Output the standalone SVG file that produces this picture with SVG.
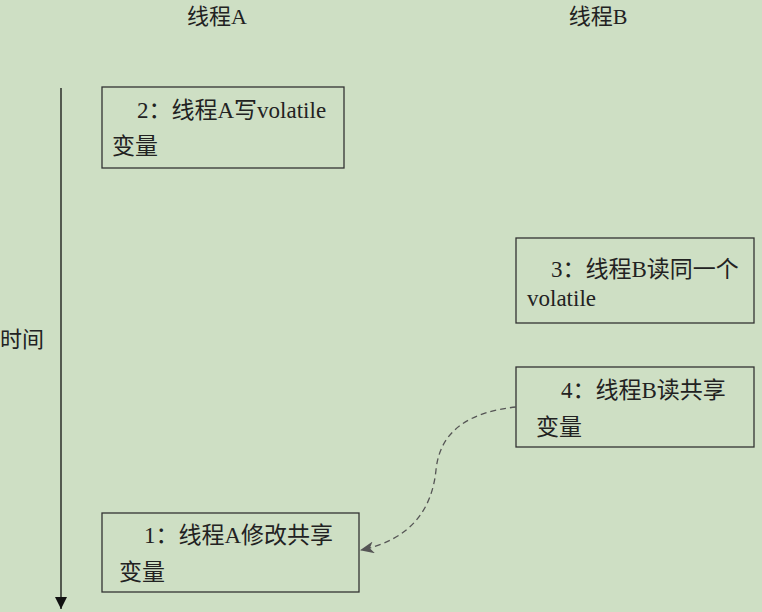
<svg xmlns="http://www.w3.org/2000/svg" width="762" height="612" viewBox="0 0 762 612">
<style>
text{fill:#222}
.box{fill:none;stroke:#333;stroke-width:1.3}
.dash{fill:none;stroke:#555;stroke-width:1.3;stroke-dasharray:6 4}
</style>
<defs>
<marker id="tri" markerWidth="12" markerHeight="12" refX="12" refY="6" orient="auto" markerUnits="userSpaceOnUse" viewBox="0 0 12 12">
<path d="M0,0 L12,6 L0,12 Z" fill="#111"/>
</marker>
<marker id="stealth" markerWidth="14" markerHeight="12" refX="13" refY="6" orient="auto" markerUnits="userSpaceOnUse" viewBox="0 0 14 12">
<path d="M0,0 L14,6 L0,12 L4,6 Z" fill="#555"/>
</marker>
</defs>
<rect width="762" height="612" fill="#cedfc4"/>
<g font-family="'Liberation Serif', 'Noto Sans CJK SC', serif" font-size="22">
<g id="headers">
<text x="217" y="24" text-anchor="middle">线程A</text>
<text x="598" y="24" text-anchor="middle">线程B</text>
</g>
<g id="time-axis">
<line x1="61" y1="88" x2="61" y2="609" stroke="#111" stroke-width="1.3" marker-end="url(#tri)"/>
<text x="0" y="347">时间</text>
</g>
<g id="node2" font-size="23">
<rect class="box" x="102" y="87" width="242" height="81"/>
<text x="137" y="118">2：线程A写volatile</text>
<text x="112" y="154">变量</text>
</g>
<g id="node3" font-size="23">
<rect class="box" x="516" y="238" width="238" height="85"/>
<text x="551" y="277">3：线程B读同一个</text>
<text x="527" y="306">volatile</text>
</g>
<g id="node4" font-size="23">
<rect class="box" x="516" y="367" width="238" height="80"/>
<text x="561" y="398">4：线程B读共享</text>
<text x="536" y="435">变量</text>
</g>
<g id="node1" font-size="23">
<rect class="box" x="102" y="513" width="257" height="79"/>
<text x="144" y="543">1：线程A修改共享</text>
<text x="119" y="580">变量</text>
</g>
</g>
<g id="connectors">
<path class="dash" d="M516,407 C470,412 440,430 436,470 C432,510 410,540 361,550" marker-end="url(#stealth)"/>
</g>
</svg>
